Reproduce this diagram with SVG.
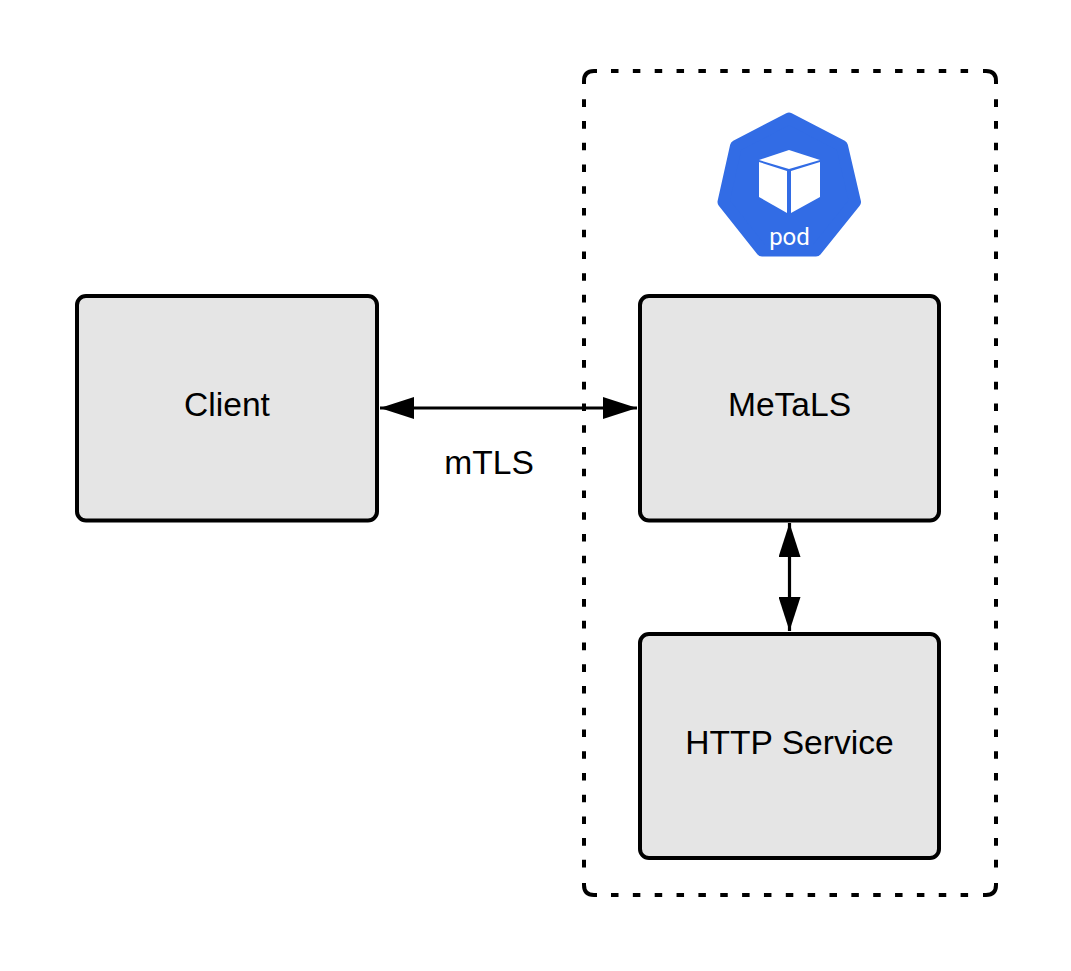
<svg xmlns="http://www.w3.org/2000/svg" width="1071" height="971" viewBox="0 0 1071 971">
<style>
.box{fill:#e5e5e5;stroke:#000;stroke-width:4}
.lbl{font-family:"Liberation Sans",Arial,sans-serif;font-size:33.6px;fill:#000;text-anchor:middle}
.dash{fill:none;stroke:#000;stroke-width:4}
.dash-h{stroke-dasharray:7.5 14.35}
.dash-v{stroke-dasharray:7.6 14.13}
.corner{fill:none;stroke:#000;stroke-width:4}
.line{fill:none;stroke:#000;stroke-width:3.2;marker-start:url(#head);marker-end:url(#head)}
</style>
<defs>
<marker id="head" markerUnits="userSpaceOnUse" viewBox="0 0 34 22" refX="34" refY="11" markerWidth="34" markerHeight="22" orient="auto-start-reverse"><path d="M0 0L34 11L0 22Z" fill="#000"/></marker>
</defs>
<rect width="1071" height="971" fill="#fff"/>
<g id="pod-boundary">
<path class="corner" d="M584 84V81Q584 71 594 71H597"/>
<path class="corner" d="M983 71H986Q996 71 996 81V84"/>
<path class="corner" d="M996 883V885Q996 895 986 895H983"/>
<path class="corner" d="M597 895H594Q584 895 584 885V883"/>
<path class="dash dash-h" d="M611 71H968.5"/>
<path class="dash dash-h" d="M611 895H968.5"/>
<path class="dash dash-v" d="M584 99.3V868"/>
<path class="dash dash-v" d="M996 99.3V868"/>
</g>
<g id="pod-icon">
<path d="M789 118.500L842 146L855 202L816 250.500H762L723.500 202L736 146Z" fill="#326ce5" stroke="#326ce5" stroke-width="12" stroke-linejoin="round"/>
<path d="M789 150L820 160L789 169L759 160Z" fill="#fff"/>
<path d="M759 162L787 171V213L759 197Z" fill="#fff"/>
<path d="M820 162L791 171V213L820 197Z" fill="#fff"/>
<text x="789.500" y="245" font-family="Roboto,sans-serif" font-size="24" fill="#fff" text-anchor="middle">pod</text>
</g>
<g id="client">
<rect class="box" x="77" y="296" width="300" height="224.500" rx="9"/>
<text class="lbl" x="227" y="416">Client</text>
</g>
<g id="metals">
<rect class="box" x="640" y="296" width="299" height="224.500" rx="9"/>
<text class="lbl" x="789.500" y="416">MeTaLS</text>
</g>
<g id="http-service">
<rect class="box" x="640" y="634" width="299" height="224" rx="9"/>
<text class="lbl" x="789.500" y="754">HTTP Service</text>
</g>
<g id="connectors">
<path class="line" d="M380 408H637"/>
<path class="line" d="M789.500 523V631"/>
</g>
<g id="labels">
<text class="lbl" x="489" y="474">mTLS</text>
</g>
</svg>
